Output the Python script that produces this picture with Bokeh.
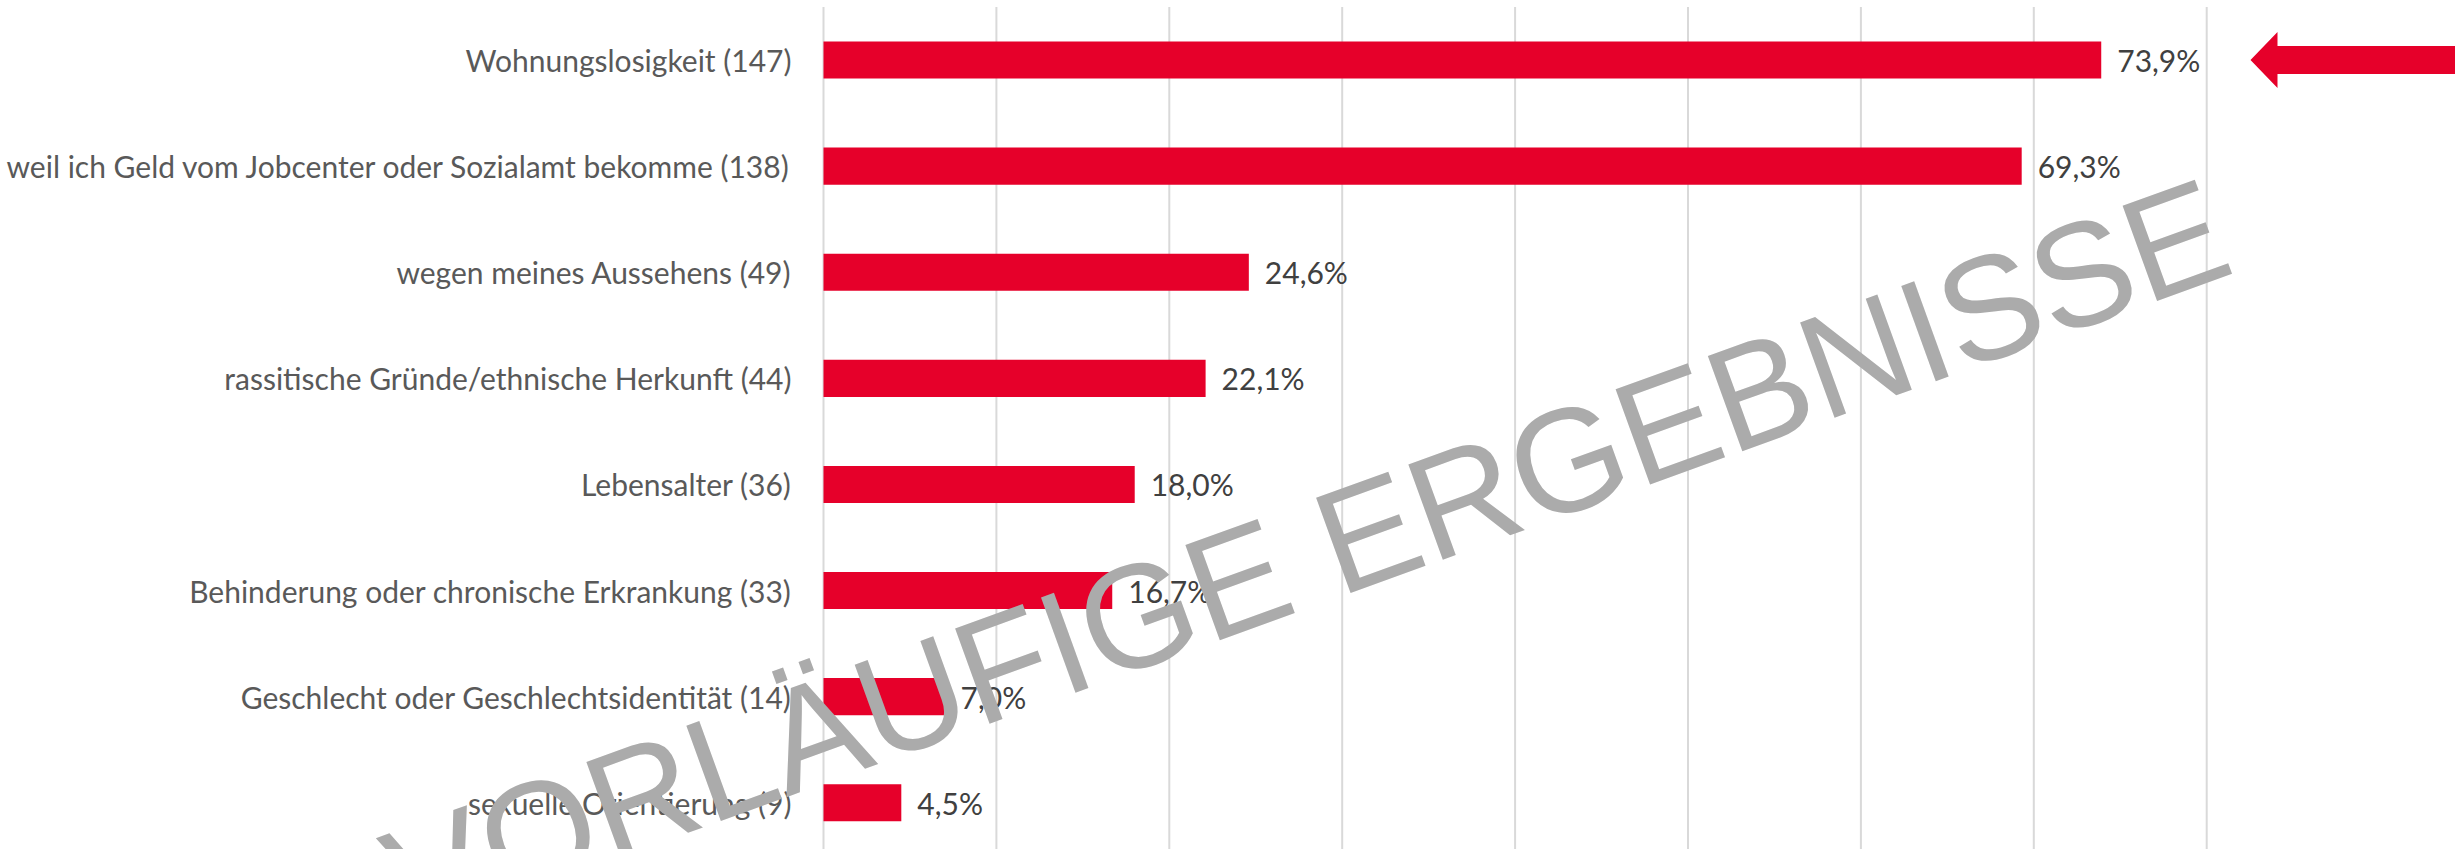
from bokeh.plotting import figure
from bokeh.models import Range1d, ColumnDataSource, Label
from bokeh.core.properties import value
from bokeh.embed import file_html
from bokeh.resources import INLINE

# ---- data ----
categories = [
    "Wohnungslosigkeit",
    "weil ich Geld vom Jobcenter oder Sozialamt bekomme",
    "wegen meines Aussehens",
    "rassitische Gründe/ethnische Herkunft",
    "Lebensalter",
    "Behinderung oder chronische Erkrankung",
    "Geschlecht oder Geschlechtsidentität",
    "sexuelle Orientierung",
]
counts = [147, 138, 49, 44, 36, 33, 14, 9]
percent = [73.9, 69.3, 24.6, 22.1, 18.0, 16.7, 7.0, 4.5]
x_ticks = [0, 10, 20, 30, 40, 50, 60, 70, 80]
watermark_text = "VORLÄUFIGE ERGEBNISSE"

labels = [f"{c} ({n})" for c, n in zip(categories, counts)]
value_labels = [f"{v:.1f}".replace(".", ",") + "%" for v in percent]
n = len(categories)
rows = [n - 0.5 - i for i in range(n)]  # row centres, top to bottom

# ---- layout constants (pixels on the page) ----
W, H = 2455, 849
ZERO_PX = 823          # page x of 0 %
PX_PER_PCT = 17.29
TOP_PX = 6.5           # page y of the plot-area top
BAND = 106.1           # row height in px

x_start = -ZERO_PX / PX_PER_PCT
x_end = x_start + W / PX_PER_PCT
y_end = n + TOP_PX / BAND
y_start = y_end - H / BAND

def px_x(px):
    return (px - ZERO_PX) / PX_PER_PCT

def px_y(py):
    return n - (py - TOP_PX) / BAND

RED = "#E6002A"
FONT = "Lato"

src = ColumnDataSource(dict(y=rows, x=percent, t=value_labels, lab=labels,
                            zero=[0] * n))
grid = ColumnDataSource(dict(x=x_ticks, y0=[0] * len(x_ticks), y1=[n] * len(x_ticks)))

p = figure(
    width=W, height=H,
    x_range=Range1d(x_start, x_end), y_range=Range1d(y_start, y_end),
    x_axis_location=None, y_axis_location=None,
    output_backend="svg", toolbar_location=None,
    min_border_left=0, min_border_right=0, min_border_top=0, min_border_bottom=0,
)
p.outline_line_color = None
p.background_fill_color = "white"
p.xgrid.grid_line_color = None
p.ygrid.grid_line_color = None

# vertical gridlines at the x ticks
p.segment(x0="x", x1="x", y0="y0", y1="y1", source=grid, line_color="#D9D9D9", line_width=2)

# bars
p.hbar(y="y", right="x", left=0, height=0.35, source=src, color=RED, line_color=None)

# category labels
p.text(x="zero", y="y", text="lab", source=src, x_offset=-32, text_baseline="middle",
       text_align="right", text_font=value(FONT), text_font_size="30px", text_color="#595959")

# value labels
p.text(x="x", y="y", text="t", source=src, x_offset=16, text_baseline="middle",
       text_align="left", text_font=value(FONT), text_font_size="30px", text_color="#404040")

# arrow pointing at the first bar
tip, base, tail = px_x(2250), px_x(2277), px_x(2458)
yc = rows[0]
hh, sh = 28 / BAND, 14 / BAND
p.patch([tip, base, base, tail, tail, base, base],
        [yc, yc + hh, yc + sh, yc + sh, yc - sh, yc - sh, yc - hh],
        color=RED, line_color=None)

# watermark
p.add_layout(Label(x=px_x(392), y=px_y(885), text=watermark_text, angle=19.9, angle_units="deg",
                   text_align="left", text_baseline="alphabetic",
                   text_font="Liberation Sans", text_font_size="147px",
                   text_color="#ABABAB"))

open("out.html", "w").write(file_html(p, INLINE))
